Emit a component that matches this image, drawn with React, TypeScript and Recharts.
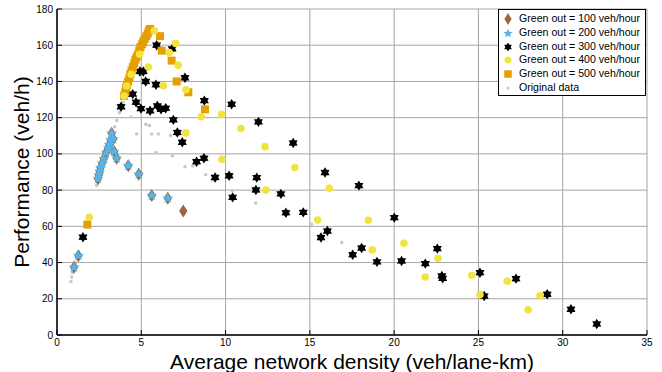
import { ScatterChart, Scatter, XAxis, YAxis, CartesianGrid } from "recharts";

const FONT = "'Liberation Sans', Arial, Helvetica, sans-serif";

const X_TICKS = [0, 5, 10, 15, 20, 25, 30, 35];
const Y_TICKS = [0, 20, 40, 60, 80, 100, 120, 140, 160, 180];

// Green out = 100 veh/hour
const g100X = [1.01, 1.27, 2.43, 2.48, 2.53, 2.58, 2.68, 2.78, 2.91, 3.04, 3.1, 3.19, 3.24, 3.34, 3.39, 3.54, 4.23, 4.85, 5.62, 6.57, 7.49];
const g100Y = [37.4, 43.8, 86.3, 88.3, 90.3, 92.3, 94.8, 97.3, 100.7, 103.2, 105, 107.7, 111.4, 108.2, 101.3, 97.6, 93.5, 88.8, 77, 75.5, 68.5];

// Green out = 200 veh/hour
const g200X = [1.01, 1.27, 2.43, 2.48, 2.53, 2.58, 2.68, 2.78, 2.91, 3.04, 3.1, 3.19, 3.24, 3.34, 3.39, 3.54, 4.23, 4.85, 5.62, 6.57];
const g200Y = [37.4, 43.8, 86.3, 88.3, 90.3, 92.3, 94.8, 97.3, 100.7, 103.2, 105, 107.7, 111.4, 108.2, 101.3, 97.6, 93.5, 88.8, 77, 75.5];

// Green out = 300 veh/hour
const g300X = [1.54, 3.8, 4.09, 4.49, 4.69, 4.92, 4.98, 5.12, 5.26, 5.52, 5.87, 5.91, 5.95, 6.17, 6.45, 6.83, 6.9, 7.14, 7.43, 7.59, 8.28, 8.72, 8.74, 9.38, 10.21, 10.36, 10.42, 11.8, 11.85, 11.95, 13.28, 13.58, 14.01, 14.61, 15.66, 15.9, 16.04, 17.54, 17.91, 18.07, 18.98, 20.01, 20.44, 21.85, 22.56, 22.83, 22.88, 25.09, 25.34, 27.23, 29.08, 30.49, 32.02];
const g300Y = [54, 126, 133, 133, 128.5, 145.5, 125, 145.5, 140, 123.8, 138.2, 160, 126.5, 124.6, 125.2, 158, 118.8, 111.8, 106.4, 142, 95.7, 97.6, 129.4, 87, 87.9, 127.4, 76, 80.1, 86.9, 117.7, 77.9, 67.5, 106, 67.7, 53.8, 89.7, 57.4, 44.3, 82.5, 48, 40.4, 64.8, 40.9, 39.4, 47.7, 32.6, 31.3, 34.4, 21.5, 31.1, 22.5, 14.2, 6.1];

// Green out = 400 veh/hour
const g400X = [1.91, 3.99, 4.13, 4.4, 4.9, 5.42, 5.77, 6.31, 6.66, 7.04, 7.19, 7.65, 7.65, 8.55, 9.77, 9.79, 10.91, 12.34, 12.39, 14.11, 15.46, 16.15, 18.47, 18.7, 20.58, 21.84, 22.6, 24.61, 25.09, 26.71, 27.95, 28.65];
const g400Y = [65, 132, 137.5, 144, 155, 148, 168, 137.6, 156, 161, 149, 135.4, 111.6, 120.5, 121.8, 97, 114, 104, 80, 92.5, 63.5, 81, 63.3, 47, 50.6, 32, 42.4, 33, 22.3, 29.7, 13.9, 21.7];

// Green out = 500 veh/hour
const g500X = [1.8, 3.98, 4.05, 4.1, 4.15, 4.22, 4.3, 4.35, 4.42, 4.5, 4.58, 4.65, 4.72, 4.8, 4.88, 4.95, 5.05, 5.12, 5.2, 5.3, 5.38, 5.45, 5.52, 6.11, 6.21, 6.8, 7.1, 7.79, 8.78];
const g500Y = [61, 132, 134, 136.5, 138, 140, 142, 144, 146, 148, 150, 152, 153.5, 155, 157, 159, 160.5, 162, 163.5, 165, 166.5, 168, 169, 165, 157, 151.5, 140, 134, 124.6];

// Original data
const origX = [0.83, 0.87, 0.91, 1.0, 1.1, 1.2, 2.35, 2.45, 2.6, 2.85, 3.0, 3.15, 3.3, 3.42, 3.55, 3.7, 3.8, 3.9, 4.05, 4.25, 4.45, 4.65, 4.85, 5.05, 5.25, 5.45, 4.39, 4.73, 5.27, 5.48, 5.62, 6.01, 6.74, 5.87, 6.84, 7.59, 8.05, 8.82, 9.21, 10.4, 11.79, 15.1, 16.89];
const origY = [29.5, 32, 34.5, 37, 40, 42.5, 82.5, 87, 92, 99.5, 103.5, 107.5, 111.5, 115, 118.5, 122.8, 125.5, 128.5, 133, 138, 143, 148, 153, 158, 162, 165, 120.3, 111, 116.3, 115.7, 111, 111, 110.1, 100.7, 98.8, 92.9, 93.4, 88.5, 85.6, 79.6, 72.9, 61.2, 51.1];

const toPoints = (xs: number[], ys: number[]) => xs.map((x, i) => ({ x, y: ys[i] }));

const COLORS = {
  g100: "#9c6640",
  g200: "#56b4e9",
  g300: "#000000",
  g400: "#f0e442",
  g500: "#e69f00",
  orig: "#c8c8c8",
};

function starPath(cx: number, cy: number, n: number, ro: number, ri: number) {
  let d = "";
  for (let i = 0; i < n * 2; i++) {
    const r = i % 2 === 0 ? ro : ri;
    const a = -Math.PI / 2 + (i * Math.PI) / n;
    d += `${i === 0 ? "M" : "L"}${cx + r * Math.cos(a)},${cy + r * Math.sin(a)}`;
  }
  return d + "Z";
}

const Diamond = ({ cx, cy, w = 4.2, h = 6.5 }: any) => (
  <path d={`M${cx},${cy - h}L${cx + w},${cy}L${cx},${cy + h}L${cx - w},${cy}Z`} fill={COLORS.g100} />
);
const Penta = ({ cx, cy, r = 5.8 }: any) => <path d={starPath(cx, cy, 5, r, r * 0.42)} fill={COLORS.g200} />;
const Hexa = ({ cx, cy, r = 5.2 }: any) => <path d={starPath(cx, cy, 6, r, r * 0.6)} fill={COLORS.g300} />;
const Dot = ({ cx, cy, r = 3.8 }: any) => <circle cx={cx} cy={cy} r={r} fill={COLORS.g400} />;
const Square = ({ cx, cy, s = 8 }: any) => (
  <rect x={cx - s / 2} y={cy - s / 2} width={s} height={s} fill={COLORS.g500} />
);
const Small = ({ cx, cy, r = 1.8 }: any) => <circle cx={cx} cy={cy} r={r} fill={COLORS.orig} />;

function XTick({ x, y, payload }: any) {
  return (
    <g>
      <line x1={x} x2={x} y1={y - 3} y2={y - 8} stroke="#000" />
      <text x={x} y={y} dy={7.5} textAnchor="middle" fontSize={10} fontFamily={FONT} fill="#000">
        {payload.value}
      </text>
    </g>
  );
}

function YTick({ x, y, payload }: any) {
  return (
    <g>
      <line x1={x + 4} x2={x + 9} y1={y} y2={y} stroke="#000" />
      <text x={x} y={y} dy={3.5} textAnchor="end" fontSize={10} fontFamily={FONT} fill="#000">
        {payload.value}
      </text>
    </g>
  );
}

const LEGEND = [
  { label: "Green out = 100 veh/hour", icon: <Diamond cx={7} cy={7} w={3.6} h={6} /> },
  { label: "Green out = 200 veh/hour", icon: <Penta cx={7} cy={7.5} r={5} /> },
  { label: "Green out = 300 veh/hour", icon: <Hexa cx={7} cy={7} r={4.4} /> },
  { label: "Green out = 400 veh/hour", icon: <Dot cx={7} cy={7} r={3.5} /> },
  { label: "Green out = 500 veh/hour", icon: <Square cx={7} cy={7} s={7.5} /> },
  { label: "Original data", icon: <Small cx={7} cy={7} r={1.6} /> },
];

export default function App() {
  return (
    <div style={{ position: "absolute", left: 0, top: 0, width: 662, height: 372, background: "#fff" }}>
      <ScatterChart width={662} height={372} margin={{ top: 9, right: 15, bottom: 0, left: 0 }}>
        <CartesianGrid stroke="#a6a6a6" strokeWidth={1} />
        <XAxis
          type="number"
          dataKey="x"
          domain={[0, 35]}
          ticks={X_TICKS}
          height={37}
          tickSize={0}
          tickMargin={3}
          tick={<XTick />}
          axisLine={{ stroke: "#000", strokeWidth: 1.5 }}
          tickLine={false}
          label={{
            value: "Average network density (veh/lane-km)",
            position: "insideBottom",
            offset: 3,
            style: { fontSize: 21, fontFamily: FONT, fill: "#000" },
          }}
        />
        <YAxis
          type="number"
          dataKey="y"
          domain={[0, 180]}
          ticks={Y_TICKS}
          width={57}
          tickSize={0}
          tickMargin={4}
          tick={<YTick />}
          axisLine={{ stroke: "#000", strokeWidth: 1.5 }}
          tickLine={false}
          label={{
            value: "Performance (veh/h)",
            angle: -90,
            position: "insideLeft",
            offset: 22,
            style: { fontSize: 21, fontFamily: FONT, fill: "#000", textAnchor: "middle" },
          }}
        />
        <Scatter name="Original data" data={toPoints(origX, origY)} shape={<Small />} isAnimationActive={false} />
        <Scatter name="Green out = 100 veh/hour" data={toPoints(g100X, g100Y)} shape={<Diamond />} isAnimationActive={false} />
        <Scatter name="Green out = 200 veh/hour" data={toPoints(g200X, g200Y)} shape={<Penta />} isAnimationActive={false} />
        <Scatter name="Green out = 300 veh/hour" data={toPoints(g300X, g300Y)} shape={<Hexa />} isAnimationActive={false} />
        <Scatter name="Green out = 500 veh/hour" data={toPoints(g500X, g500Y)} shape={<Square />} isAnimationActive={false} />
        <Scatter name="Green out = 400 veh/hour" data={toPoints(g400X, g400Y)} shape={<Dot />} isAnimationActive={false} />
      </ScatterChart>
      <div
        style={{
          position: "absolute",
          left: 498,
          top: 9,
          width: 148,
          height: 87,
          border: "1px solid #000",
          background: "#fff",
          fontFamily: FONT,
          fontSize: 10.6,
          paddingTop: 2,
          boxSizing: "border-box",
          whiteSpace: "nowrap",
          overflow: "hidden",
        }}
      >
        {LEGEND.map((l) => (
          <div key={l.label} style={{ display: "flex", alignItems: "center", height: 13.8, lineHeight: "13.8px" }}>
            <svg width={14} height={14} style={{ marginLeft: 2, marginRight: 4, flexShrink: 0 }}>
              {l.icon}
            </svg>
            <span>{l.label}</span>
          </div>
        ))}
      </div>
    </div>
  );
}
